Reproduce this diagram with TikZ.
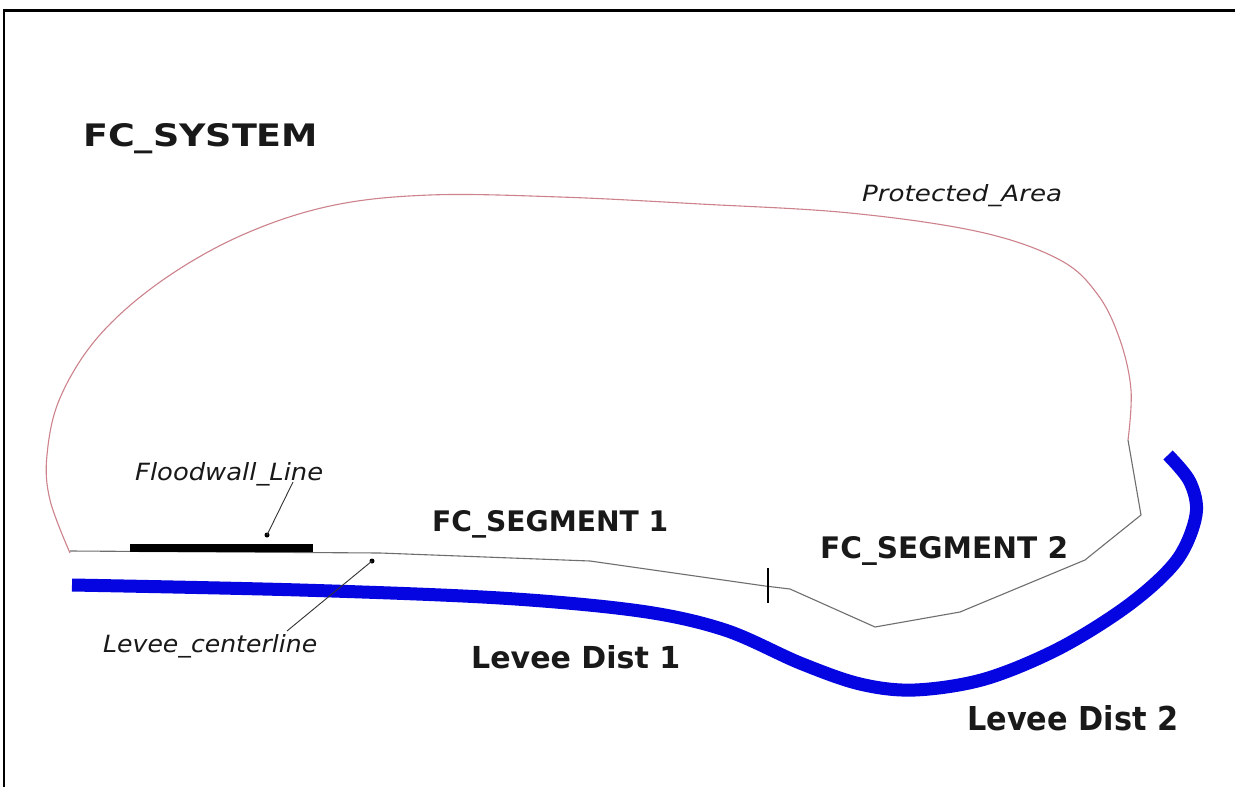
\documentclass[tikz,border=0pt]{standalone}
\usepackage{fontspec}
\setmainfont{DejaVu Sans}
\usepackage{graphicx}
\definecolor{pinkline}{RGB}{205,130,140}
\definecolor{grayline}{RGB}{110,110,110}
\definecolor{leveeblue}{RGB}{5,5,225}
\newcommand{\fitlab}[3]{\resizebox{#1pt}{#2pt}{#3}}
\begin{document}
\begin{tikzpicture}[x=1pt,y=-1pt,
  lab/.style={inner sep=0pt, anchor=base west, text=black!90},
  frameline/.style={draw=black, line width=3pt},
  leader/.style={draw=black!80, line width=0.9pt},
  dotend/.style={circle, fill=black, inner sep=0pt, minimum size=5pt}]
\useasboundingbox (0,0) rectangle (1235,787);
\fill[white] (0,0) rectangle (1235,787);
% frame
\draw[frameline] (3,10) -- (1235,10);
\draw[frameline, line width=2.4pt] (4,9) -- (4,787);
% protected area
\draw[pinkline, line width=1.1pt] plot[smooth, tension=0.6] coordinates {(70,553) (50,500) (47,455) (60,398) (98,337) (160,282) (240,236) (330,206) (430,195) (560,197) (700,204) (850,213) (980,232) (1060,260) (1098,295) (1120,340) (1131,390) (1128,440)};
% levee centerline
\draw[grayline, line width=1.1pt] (70,551) -- (380,553) -- (590,561) -- (765,586) -- (790,589) -- (875,627) -- (960,612) -- (1085,560) -- (1141,515) -- (1128,440);
% floodwall
\draw[black, line width=7.5pt] (130,548) -- (313,548);
% segment tick
\draw[black, line width=2pt] (768,568) -- (768,603);
% levee (blue)
\draw[leveeblue, line width=13pt] plot[smooth, tension=0.55] coordinates {(72,585) (300,590) (500,598) (640,611) (725,630) (800,663) (860,684) (915,690) (985,679) (1060,648) (1130,604) (1177,560) (1196,515) (1190,482) (1168,455)};
% labels
\node[lab] (sys) at (83,146) {\fitlab{235}{23}{\bfseries FC\_SYSTEM}};
\node[lab] (pa) at (862,201) {\fitlab{200}{17}{\itshape Protected\_Area}};
\node[lab] (fw) at (135,480) {\fitlab{188}{18}{\itshape Floodwall\_Line}};
\node[lab] (lc) at (103,652) {\fitlab{214}{18}{\itshape Levee\_centerline}};
\node[lab] (s1) at (432,531) {\fitlab{236}{21}{\bfseries FC\_SEGMENT 1}};
\node[lab] (s2) at (820,558) {\fitlab{248}{22}{\bfseries FC\_SEGMENT 2}};
\node[lab] (d1) at (471,668) {\fitlab{209}{23}{\bfseries Levee Dist 1}};
\node[lab] (d2) at (967,730) {\fitlab{211}{25}{\bfseries Levee Dist 2}};
% leaders
\node[dotend] (fwdot) at (267,535) {};
\node[dotend] (lcdot) at (372,561) {};
\coordinate (fwstart) at (293,482);
\coordinate (lcstart) at (287,631);
\draw[leader] (fwstart) -- (fwdot.center);
\draw[leader] (lcstart) -- (lcdot.center);
\end{tikzpicture}
\end{document}
